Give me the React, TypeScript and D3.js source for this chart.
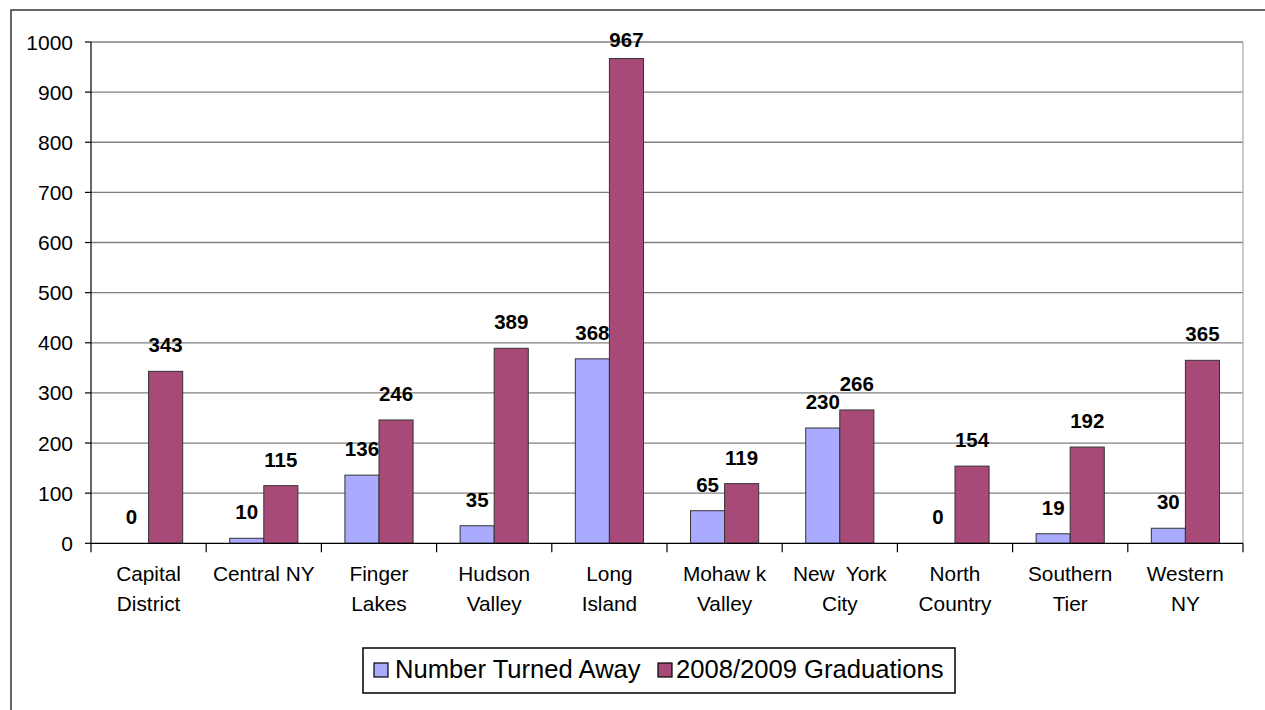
import React from "react";
import * as d3 from "d3";

const categories: string[][] = [
  ["Capital", "District"],
  ["Central NY"],
  ["Finger", "Lakes"],
  ["Hudson", "Valley"],
  ["Long", "Island"],
  ["Mohaw k", "Valley"],
  ["New  York", "City"],
  ["North", "Country"],
  ["Southern", "Tier"],
  ["Western", "NY"],
];
const turnedAway: number[] = [0, 10, 136, 35, 368, 65, 230, 0, 19, 30];
const graduations: number[] = [343, 115, 246, 389, 967, 119, 266, 154, 192, 365];
const yTicks: number[] = [0, 100, 200, 300, 400, 500, 600, 700, 800, 900, 1000];
const seriesNames: string[] = ["Number Turned Away", "2008/2009 Graduations"];
const seriesColors: string[] = ["#AAAAFF", "#A84A77"];

const FONT = "'Liberation Sans', Arial, sans-serif";

export default function App() {
  const W = 1265;
  const H = 710;
  const left = 91;
  const right = 1243;
  const top = 42;
  const bottom = 543.3;

  const x = d3
    .scaleBand<number>()
    .domain(d3.range(categories.length))
    .range([left, right]);
  const xInner = d3
    .scaleBand<number>()
    .domain([0, 1])
    .range([0, x.bandwidth()])
    .paddingOuter(0.69)
    .paddingInner(0);
  const y = d3.scaleLinear().domain([0, 1000]).range([bottom, top]);

  const series = [turnedAway, graduations];

  return (
    <svg
      width={W}
      height={H}
      style={{ position: "absolute", left: 0, top: 0, background: "#fff" }}
      fontFamily={FONT}
    >
      <rect x={0} y={0} width={W} height={H} fill="#fff" />
      {/* outer chart border */}
      <rect x={11} y={10} width={W + 20} height={H + 20} fill="none" stroke="#333" strokeWidth={1.5} />

      {/* gridlines */}
      {yTicks.map((t) =>
        t === 0 ? null : (
          <line key={"g" + t} x1={left} x2={right} y1={y(t)} y2={y(t)} stroke="#808080" strokeWidth={1.3} />
        )
      )}
      {/* plot area right border */}
      <line x1={right} x2={right} y1={top} y2={bottom} stroke="#b0b0b0" strokeWidth={1.3} />

      {/* bars */}
      {series.map((vals, si) =>
        vals.map((v, i) => {
          const bx = (x(i) as number) + (xInner(si) as number);
          return (
            <rect
              key={`b${si}-${i}`}
              x={bx}
              y={y(v)}
              width={xInner.bandwidth()}
              height={bottom - y(v)}
              fill={seriesColors[si]}
              stroke="#333"
              strokeWidth={1}
            />
          );
        })
      )}

      {/* axes */}
      <line x1={left} x2={left} y1={top} y2={bottom} stroke="#000" strokeWidth={1.2} />
      <line x1={left} x2={right} y1={bottom} y2={bottom} stroke="#000" strokeWidth={1.2} />
      {yTicks.map((t) => (
        <g key={"yt" + t}>
          <line x1={left - 6} x2={left} y1={y(t)} y2={y(t)} stroke="#000" strokeWidth={1.2} />
          <text x={73} y={y(t)} dy="0.36em" textAnchor="end" fontSize={21} fill="#000">
            {t}
          </text>
        </g>
      ))}
      {d3.range(categories.length + 1).map((i) => {
        const tx = left + i * x.step();
        return <line key={"xt" + i} x1={tx} x2={tx} y1={bottom} y2={bottom + 9} stroke="#000" strokeWidth={1.2} />;
      })}

      {/* category labels */}
      {categories.map((lines, i) => {
        const cx = (x(i) as number) + x.bandwidth() / 2;
        return (
          <text key={"c" + i} textAnchor="middle" fontSize={20.8} fill="#000">
            {lines.map((l, li) => (
              <tspan key={li} x={cx} y={581 + li * 30} style={{ whiteSpace: "pre" }}>
                {l}
              </tspan>
            ))}
          </text>
        );
      })}

      {/* data labels */}
      {series.map((vals, si) =>
        vals.map((v, i) => {
          const cx = (x(i) as number) + (xInner(si) as number) + xInner.bandwidth() / 2;
          const by = Math.max(y(v) - 19, 47);
          return (
            <text
              key={`l${si}-${i}`}
              x={cx}
              y={by}
              textAnchor="middle"
              fontSize={20.5}
              fontWeight="bold"
              fill="#000"
            >
              {v}
            </text>
          );
        })
      )}

      {/* legend */}
      <rect x={363} y={648} width={592} height={45} fill="#fff" stroke="#000" strokeWidth={1.5} />
      <rect x={374} y={663} width={14} height={14} fill={seriesColors[0]} stroke="#000" strokeWidth={1.2} />
      <text x={395} y={678} fontSize={25.6} fill="#000">
        {seriesNames[0]}
      </text>
      <rect x={658} y={663} width={14} height={14} fill={seriesColors[1]} stroke="#000" strokeWidth={1.2} />
      <text x={676} y={678} fontSize={25.6} fill="#000">
        {seriesNames[1]}
      </text>
    </svg>
  );
}
